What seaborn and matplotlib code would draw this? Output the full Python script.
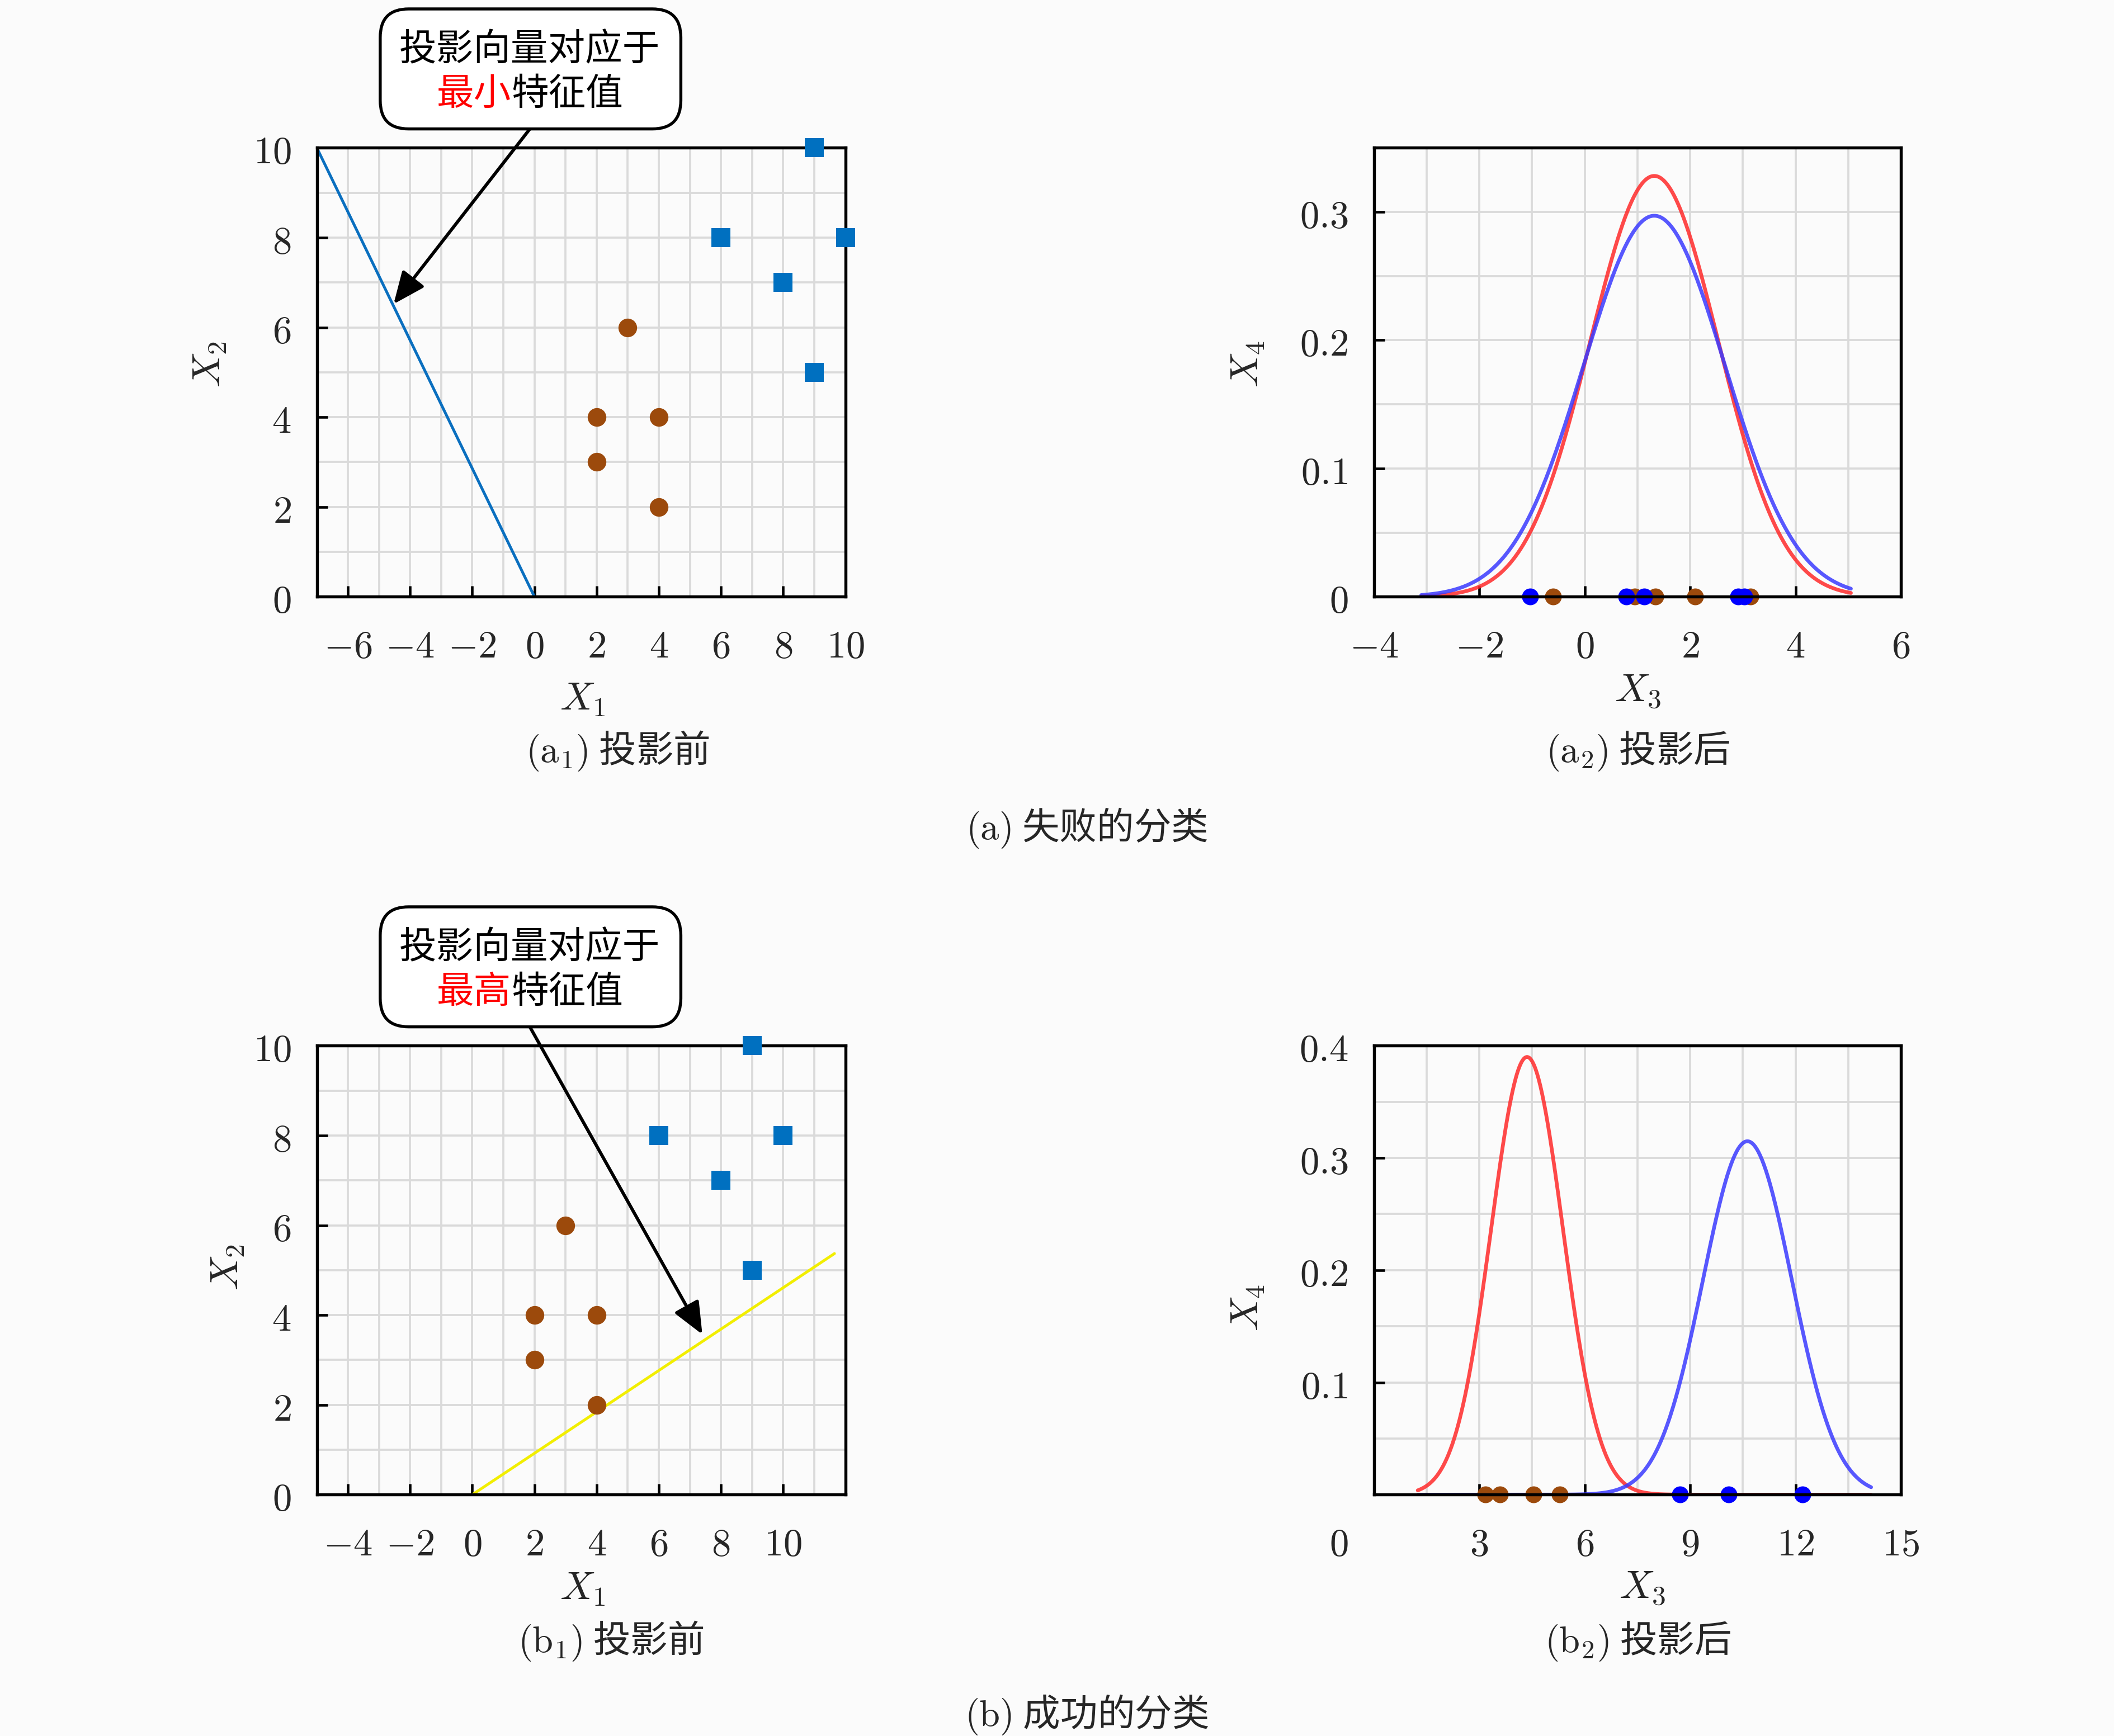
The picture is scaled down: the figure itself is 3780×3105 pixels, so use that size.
import numpy as np
import matplotlib
matplotlib.use("Agg")
import matplotlib.pyplot as plt
import seaborn as sns
from matplotlib.ticker import MultipleLocator, FixedLocator, FixedFormatter
from matplotlib.patches import FancyBboxPatch

# ---------------- data ----------------
# original 2-D samples
brown_x = [2, 2, 3, 4, 4]
brown_y = [3, 4, 6, 2, 4]
blue_x = [6, 8, 9, 9, 10]
blue_y = [8, 7, 5, 10, 8]

# projection directions drawn in the left panels
a1_line_x = [-7, 0]
a1_line_y = [10, 0]
b1_line_x = [0, 11.65]
b1_line_y = [0, 5.37]

# projected 1-D samples
a2_brown_proj = [-0.60, 0.95, 1.34, 2.09, 3.14]
a2_blue_proj = [-1.03, 0.79, 1.13, 2.91, 3.03]
b2_brown_proj = [3.18, 3.59, 4.55, 5.29]
b2_blue_proj = [8.72, 10.10, 12.20]

a2_curve_mu = [1.32, 1.32]
a2_curve_sd = [1.216, 1.343]
a2_curve_range = [-3.1, 5.05]
b2_curve_mu = [4.36, 10.63]
b2_curve_sd = [1.023, 1.267]
b2_curve_range = [1.25, 14.15]

# ticks
a1_xticks = [-6, -4, -2, 0, 2, 4, 6, 8, 10]
b1_xticks = [-4, -2, 0, 2, 4, 6, 8, 10]
left_yticks = [0, 2, 4, 6, 8, 10]
a2_xticks = [-4, -2, 0, 2, 4, 6]
a2_yticks = [0, 0.1, 0.2, 0.3]
b2_xticks = [3, 6, 9, 12, 15]
b2_yticks = [0.1, 0.2, 0.3, 0.4]

# texts
box_line1 = "投影向量对应于"
a_box_red, a_box_rest = "最小", "特征值"
b_box_red, b_box_rest = "最高", "特征值"
cap_a1 = r"$(\mathrm{a}_1)$ 投影前"
cap_a2 = r"$(\mathrm{a}_2)$ 投影后"
cap_b1 = r"$(\mathrm{b}_1)$ 投影前"
cap_b2 = r"$(\mathrm{b}_2)$ 投影后"
cap_a = r"$(\mathrm{a})$ 失败的分类"
cap_b = r"$(\mathrm{b})$ 成功的分类"

# ---------------- style ----------------
sns.set_theme(style="white")
BG = "#fbfbfb"
plt.rcParams["font.family"] = ["Noto Sans CJK SC", "DejaVu Sans"]
plt.rcParams["mathtext.fontset"] = "cm"
plt.rcParams["axes.unicode_minus"] = True

C_SQ = "#0070c0"
C_BROWN = "#9c4a0c"
C_DOT_BLUE = "#0000ff"
C_RED = "#ff2a2a"
C_BLUE = "#3a3aff"

W, H = 12.6, 10.353
fig = plt.figure(figsize=(W, H), dpi=300, facecolor=BG)
DW, DH = 1568.0, 1288.0  # reference display grid used for layout


def fx(px):
    return px / DW


def fy(py):
    return 1 - py / DH


def inch_x(px):
    return px / DW * W


def inch_y(py):
    return H - py / DH * H


def make_axes(l, t, r, b):
    return fig.add_axes([fx(l), fy(b), fx(r) - fx(l), (b - t) / DH])


def mlabel(v):
    s = ("%g" % v)
    return "$" + s + "$"


def style(ax, xlim, ylim, xt, yt, xminor, yminor):
    ax.set_facecolor(BG)
    ax.set_xlim(*xlim)
    ax.set_ylim(*ylim)
    ax.xaxis.set_major_locator(FixedLocator(xt))
    ax.xaxis.set_major_formatter(FixedFormatter([mlabel(v) for v in xt]))
    ax.yaxis.set_major_locator(FixedLocator(yt))
    ax.yaxis.set_major_formatter(FixedFormatter([mlabel(v) for v in yt]))
    ax.xaxis.set_minor_locator(MultipleLocator(xminor))
    ax.yaxis.set_minor_locator(MultipleLocator(yminor))
    ax.grid(which="both", color="#dadada", lw=0.9)
    ax.set_axisbelow(True)
    ax.tick_params(which="major", direction="in", length=4.5, width=1.1,
                   color="black", labelsize=16.5, bottom=True, left=True,
                   top=False, right=False)
    ax.tick_params(axis="x", which="major", pad=13)
    ax.tick_params(axis="y", which="major", pad=11)
    ax.tick_params(which="minor", length=0)
    for sp in ax.spines.values():
        sp.set_color("black")
        sp.set_linewidth(1.3)
        sp.set_visible(True)
    ax.set_xlabel("")
    ax.set_ylabel("")


def left_panel(ax, xlim, xt, lx, ly, lcolor):
    style(ax, xlim, (0, 10), xt, left_yticks, 1, 1)
    sns.lineplot(x=lx, y=ly, ax=ax, color=lcolor, lw=1.2, sort=False,
                 estimator=None, zorder=2)
    sns.scatterplot(x=brown_x, y=brown_y, ax=ax, color=C_BROWN, marker="o",
                    s=64, linewidth=0, zorder=3, clip_on=False)
    sns.scatterplot(x=blue_x, y=blue_y, ax=ax, color=C_SQ, marker="s",
                    s=68, linewidth=0, zorder=3, clip_on=False)


def right_panel(ax, xlim, ylim, xt, yt, xminor, mus, sds, rng, bproj, uproj):
    style(ax, xlim, ylim, xt, yt, xminor, 0.05)
    xs = np.linspace(rng[0], rng[1], 500)
    for mu, sd, col in zip(mus, sds, [C_RED, C_BLUE]):
        ys = np.exp(-0.5 * ((xs - mu) / sd) ** 2) / (sd * np.sqrt(2 * np.pi))
        sns.lineplot(x=xs, y=ys, ax=ax, color=col, lw=1.6, alpha=0.85,
                     sort=False, estimator=None, zorder=2)
    sns.scatterplot(x=bproj, y=[0] * len(bproj), ax=ax, color=C_BROWN,
                    s=52, linewidth=0, zorder=2.2, clip_on=False)
    sns.scatterplot(x=uproj, y=[0] * len(uproj), ax=ax, color=C_DOT_BLUE,
                    s=52, linewidth=0, zorder=2.3, clip_on=False)


# axes
ax_a1 = make_axes(235, 110, 627, 443)
ax_a2 = make_axes(1019, 110, 1410, 443)
ax_b1 = make_axes(235, 776, 627, 1109)
ax_b2 = make_axes(1019, 776, 1410, 1109)

left_panel(ax_a1, (-7, 10), a1_xticks, a1_line_x, a1_line_y, "#0a6fbf")
left_panel(ax_b1, (-5, 12), b1_xticks, b1_line_x, b1_line_y, "#f2ee00")
right_panel(ax_a2, (-4, 6), (0, 0.35), a2_xticks, a2_yticks, 1,
            a2_curve_mu, a2_curve_sd, a2_curve_range, a2_brown_proj, a2_blue_proj)
right_panel(ax_b2, (0, 15), (0, 0.4), b2_xticks, b2_yticks, 1.5,
            b2_curve_mu, b2_curve_sd, b2_curve_range, b2_brown_proj, b2_blue_proj)

# stray "0" label below the left of panel (b2)
ax_b2.annotate("$0$", xy=(-1.0, 0), xycoords=("data", "axes fraction"),
               xytext=(0, -13), textcoords="offset points", ha="center",
               va="top", fontsize=16.5, annotation_clip=False)


# callout boxes with arrows
def callout(ax, top_px, red, rest, tip):
    left_px, right_px = 282, 505
    bottom_px = top_px + 89
    cx = inch_x(393)
    box = FancyBboxPatch((inch_x(left_px), inch_y(bottom_px)),
                         inch_x(right_px) - inch_x(left_px),
                         inch_y(top_px) - inch_y(bottom_px),
                         boxstyle="round,pad=0,rounding_size=0.17",
                         transform=fig.dpi_scale_trans, fc="white",
                         ec="black", lw=1.3, zorder=5)
    fig.add_artist(box)
    em = 16 / 72.0
    y1 = inch_y(top_px + 30)
    y2 = inch_y(top_px + 63)
    fig.text(cx, y1, box_line1, transform=fig.dpi_scale_trans, ha="center",
             va="center", fontsize=16, color="black", zorder=6)
    fig.text(cx - 1.5 * em, y2, red, transform=fig.dpi_scale_trans,
             ha="center", va="center", fontsize=16, color="#ff0000", zorder=6)
    fig.text(cx + 1.0 * em, y2, rest, transform=fig.dpi_scale_trans,
             ha="center", va="center", fontsize=16, color="black", zorder=6)
    ax.annotate("", xy=tip, xycoords="data",
                xytext=(fx(393), fy(bottom_px)), textcoords="figure fraction",
                arrowprops=dict(arrowstyle="-|>,head_length=0.65,head_width=0.28",
                                mutation_scale=18, lw=1.4, color="black",
                                shrinkA=0, shrinkB=0),
                annotation_clip=False, zorder=4)


callout(ax_a1, 7, a_box_red, a_box_rest, (-4.53, 6.52))
callout(ax_b1, 673, b_box_red, b_box_rest, (7.40, 3.57))

# axis labels
fig.text(fx(432), fy(518), "$X_1$", ha="center", va="center", fontsize=17)
fig.text(fx(1215), fy(512), "$X_3$", ha="center", va="center", fontsize=17)
fig.text(fx(432), fy(1178), "$X_1$", ha="center", va="center", fontsize=17)
fig.text(fx(1218), fy(1177), "$X_3$", ha="center", va="center", fontsize=17)
fig.text(fx(155), fy(270), "$X_2$", ha="center", va="center", fontsize=17, rotation=90)
fig.text(fx(925), fy(270), "$X_4$", ha="center", va="center", fontsize=17, rotation=90)
fig.text(fx(168), fy(940), "$X_2$", ha="center", va="center", fontsize=17, rotation=90)
fig.text(fx(925), fy(970), "$X_4$", ha="center", va="center", fontsize=17, rotation=90)

# captions
fig.text(fx(458), fy(557), cap_a1, ha="center", va="center", fontsize=16)
fig.text(fx(1215), fy(557), cap_a2, ha="center", va="center", fontsize=16)
fig.text(fx(806), fy(614), cap_a, ha="center", va="center", fontsize=16)
fig.text(fx(453), fy(1217), cap_b1, ha="center", va="center", fontsize=16)
fig.text(fx(1215), fy(1217), cap_b2, ha="center", va="center", fontsize=16)
fig.text(fx(806), fy(1272), cap_b, ha="center", va="center", fontsize=16)

fig.savefig("out.png", dpi=300, facecolor=BG)
